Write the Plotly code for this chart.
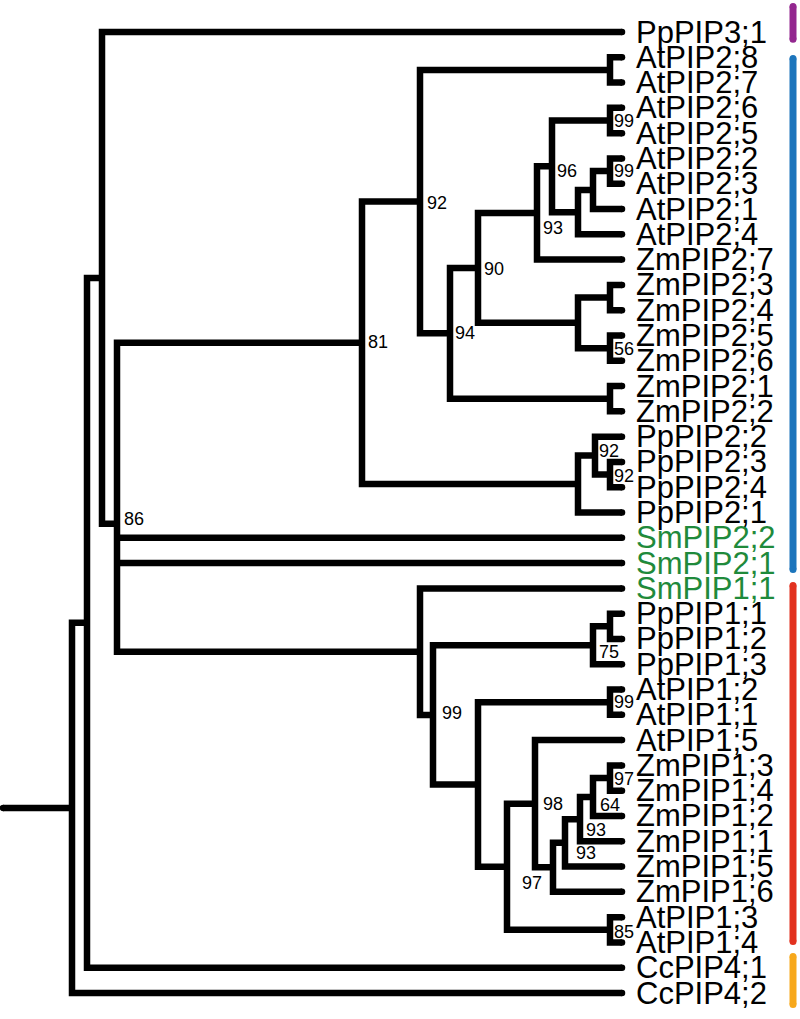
import plotly.graph_objects as go

# ---------------- data ----------------
leaf_names = ["PpPIP3;1", "AtPIP2;8", "AtPIP2;7", "AtPIP2;6", "AtPIP2;5", "AtPIP2;2",
              "AtPIP2;3", "AtPIP2;1", "AtPIP2;4", "ZmPIP2;7", "ZmPIP2;3", "ZmPIP2;4",
              "ZmPIP2;5", "ZmPIP2;6", "ZmPIP2;1", "ZmPIP2;2", "PpPIP2;2", "PpPIP2;3",
              "PpPIP2;4", "PpPIP2;1", "SmPIP2;2", "SmPIP2;1", "SmPIP1;1", "PpPIP1;1",
              "PpPIP1;2", "PpPIP1;3", "AtPIP1;2", "AtPIP1;1", "AtPIP1;5", "ZmPIP1;3",
              "ZmPIP1;4", "ZmPIP1;2", "ZmPIP1;1", "ZmPIP1;5", "ZmPIP1;6", "AtPIP1;3",
              "AtPIP1;4", "CcPIP4;1", "CcPIP4;2"]
green_leaves = ["SmPIP2;2", "SmPIP2;1", "SmPIP1;1"]
leaf_depth = 622
root_stem_start = 3

node_names = ["root", "nA", "nB", "nC", "nD", "nF", "p28_27", "nG", "nH", "nI", "nJ",
              "p26_25", "nK", "nL", "p22_23", "nM", "pZ23", "pZ25", "pZ21", "nN", "nO",
              "pPp23", "nE", "nP", "nR", "pPp11", "nQ", "pAt12", "nS", "nT", "nU", "nV",
              "nW", "nX", "pZm13", "pAt13"]
node_depth = [72, 87, 102, 117, 362, 420, 610, 450, 478, 537, 552,
              610, 578, 593, 610, 578, 610, 610, 610, 578, 595,
              610, 420, 433, 593, 610, 478, 610, 507, 535, 553, 565,
              580, 593, 610, 610]
node_children = [
    ["nA", "CcPIP4;2"], ["nB", "CcPIP4;1"], ["PpPIP3;1", "nC"],
    ["nD", "SmPIP2;2", "SmPIP2;1", "nE"], ["nF", "nN"], ["p28_27", "nG"],
    ["AtPIP2;8", "AtPIP2;7"], ["nH", "pZ21"], ["nI", "nM"], ["nJ", "ZmPIP2;7"],
    ["p26_25", "nK"], ["AtPIP2;6", "AtPIP2;5"], ["nL", "AtPIP2;4"],
    ["p22_23", "AtPIP2;1"], ["AtPIP2;2", "AtPIP2;3"], ["pZ23", "pZ25"],
    ["ZmPIP2;3", "ZmPIP2;4"], ["ZmPIP2;5", "ZmPIP2;6"], ["ZmPIP2;1", "ZmPIP2;2"],
    ["nO", "PpPIP2;1"], ["PpPIP2;2", "pPp23"], ["PpPIP2;3", "PpPIP2;4"],
    ["SmPIP1;1", "nP"], ["nR", "nQ"], ["pPp11", "PpPIP1;3"], ["PpPIP1;1", "PpPIP1;2"],
    ["pAt12", "nS"], ["AtPIP1;2", "AtPIP1;1"], ["nT", "pAt13"], ["AtPIP1;5", "nU"],
    ["nV", "ZmPIP1;6"], ["nW", "ZmPIP1;5"], ["nX", "ZmPIP1;1"], ["pZm13", "ZmPIP1;2"],
    ["ZmPIP1;3", "ZmPIP1;4"], ["AtPIP1;3", "AtPIP1;4"]]

# bootstrap support values
support_nodes = ["nD", "nC", "nF", "nG", "nH", "nJ", "nI", "p26_25", "p22_23", "pZ25",
                 "nO", "pPp23", "nR", "nP", "pAt12", "nT", "pZm13", "nX", "nW", "nV",
                 "nU", "pAt13"]
support_values = ["81", "86", "92", "94", "90", "96", "93", "99", "99", "56",
                  "92", "92", "75", "99", "99", "98", "97", "64", "93", "93",
                  "97", "85"]
support_dx = [16, 17, 17, 15, 16, 15, 16, 14, 14, 14,
              14, 14, 16, 19, 14, 18, 14, 17, 16, 21,
              -21, 14]
support_dy = [-1, -5, 1, 0, 1, 5, 15, 0, 0, 1,
              -5, 1, 7, -2, 0, 0, 1, 8, 11, 10,
              16, 2]

# clade bars (in leaf-row units)
bar_start = [-1.15, 0.91, 21.75, 36.42]
bar_end = [0.43, 21.39, 36.10, 38.59]
bar_colors = ["#93278F", "#1C75BC", "#E2311F", "#F7A81B"]

# ---------------- layout constants ----------------
W, H = 800, 1019
row_px = 25.29
top_px = 32
y_top = -top_px / row_px
y_bot = y_top + H / row_px

# ---------------- compute coordinates ----------------
pos = {}
for i, n in enumerate(leaf_names):
    pos[n] = (leaf_depth, float(i))
node_map = {n: (d, c) for n, d, c in zip(node_names, node_depth, node_children)}


def place(n):
    if n in pos:
        return pos[n]
    d, ch = node_map[n]
    ys = [place(c)[1] for c in ch]
    pos[n] = (d, sum(ys) / len(ys))
    return pos[n]


place("root")

xs, ys = [], []
rx, ry = pos["root"]
xs += [root_stem_start, rx, None]
ys += [ry, ry, None]
for n in node_names:
    nx, ny = pos[n]
    ch = node_map[n][1]
    c0, cl = ch[0], ch[-1]
    xs += [pos[c0][0], nx, nx, pos[cl][0], None]
    ys += [pos[c0][1], pos[c0][1], pos[cl][1], pos[cl][1], None]
    for c in ch[1:-1]:
        xs += [nx, pos[c][0], None]
        ys += [pos[c][1], pos[c][1], None]

fig = go.Figure()
fig.add_trace(go.Scatter(x=xs, y=ys, mode="lines",
                         line=dict(color="black", width=6.5),
                         hoverinfo="skip", showlegend=False))
fig.add_trace(go.Scatter(x=[pos[n][0] for n in leaf_names] + [root_stem_start],
                         y=[pos[n][1] for n in leaf_names] + [ry],
                         mode="markers", marker=dict(color="black", size=6.5),
                         hoverinfo="skip", showlegend=False))

for s, e, c in zip(bar_start, bar_end, bar_colors):
    fig.add_trace(go.Scatter(x=[793, 793], y=[s + 0.14, e - 0.14], mode="lines+markers",
                             line=dict(color=c, width=7),
                             marker=dict(color=c, size=7),
                             hoverinfo="skip", showlegend=False))

for n in leaf_names:
    fig.add_annotation(x=634, y=pos[n][1], text=n, showarrow=False,
                       xanchor="left", yanchor="middle",
                       font=dict(family="Liberation Sans, Arial", size=31,
                                 color="#1F8A3B" if n in green_leaves else "black"))

for n, v, dx, dy in zip(support_nodes, support_values, support_dx, support_dy):
    x0, y0 = pos[n]
    fig.add_annotation(x=x0 + dx, y=y0 + dy / row_px, text=v, showarrow=False,
                       xanchor="center", yanchor="middle",
                       font=dict(family="Liberation Sans, Arial", size=18, color="black"))

fig.update_layout(width=W, height=H, margin=dict(l=0, r=0, t=0, b=0),
                  plot_bgcolor="white", paper_bgcolor="white")
fig.update_xaxes(range=[0, W], visible=False, fixedrange=True)
fig.update_yaxes(range=[y_bot, y_top], visible=False, fixedrange=True)
fig.write_html("out.html", config={"displayModeBar": False},
               post_script="document.body.style.margin='0';"
                           "document.body.style.overflow='hidden';")
